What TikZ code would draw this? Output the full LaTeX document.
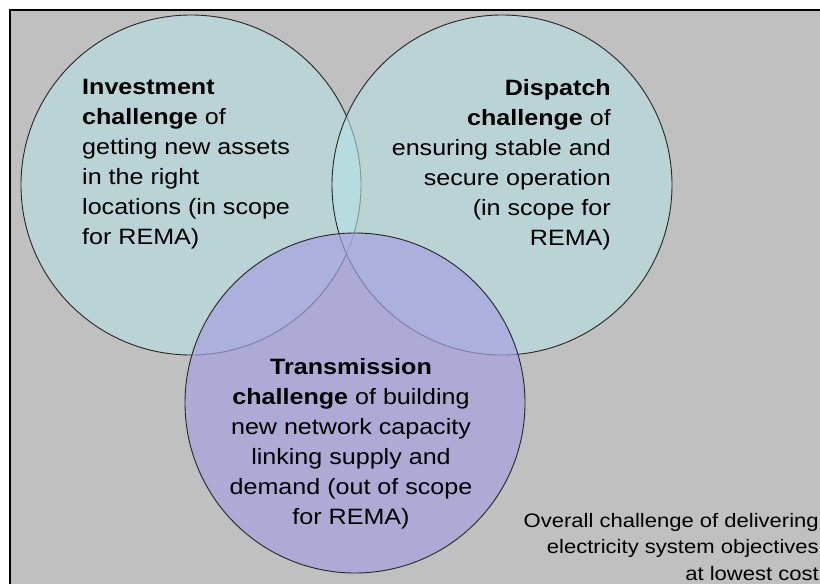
\documentclass[tikz,border=0pt]{standalone}
\usepackage{fontspec}
\setmainfont[FakeStretch=1.13]{Liberation Sans}
\definecolor{bggrey}{RGB}{192,192,192}
\definecolor{tealfill}{RGB}{182,226,230}
\definecolor{purplefill}{RGB}{166,161,223}
\begin{document}
\begin{tikzpicture}[x=1pt,y=-1pt,
  venn/.style={circle, draw=black!85, line width=0.9pt, minimum size=340pt, inner sep=0pt},
  tealc/.style={venn, fill=tealfill, fill opacity=0.6},
  purplec/.style={venn, fill=purplefill, fill opacity=0.7},
  lbl/.style={inner sep=0pt, font=\fontsize{22.2}{30}\selectfont, text=black},
  note/.style={inner sep=0pt, font=\fontsize{19.5}{26.5}\selectfont, text=black}]
\useasboundingbox (0,0) rectangle (820,584);
\fill[white] (0,0) rectangle (820,584);
\begin{scope}
\clip (0,0) rectangle (820,584);
\draw[fill=bggrey, line width=1.4pt] (10,10) rectangle (840,600);
\end{scope}
\node[tealc] (inv) at (191,185) {};
\node[tealc] (disp) at (502,185) {};
\node[purplec] (trans) at (355,403) {};
\node[lbl, anchor=north west, align=left] (invtxt) at (82,79)
  {\textbf{Investment}\\\textbf{challenge} of\\getting new assets\\in the right\\locations (in scope\\for REMA)};
\node[lbl, anchor=north east, align=right] (disptxt) at (611,79)
  {\textbf{Dispatch}\\\textbf{challenge} of\\ensuring stable and\\secure operation\\(in scope for\\REMA)};
\node[lbl, anchor=north, align=center] (transtxt) at (351,358)
  {\textbf{Transmission}\\\textbf{challenge} of building\\new network capacity\\linking supply and\\demand (out of scope\\for REMA)};
\node[note, anchor=north east, align=right] (overall) at (819,513)
  {Overall challenge of delivering\\electricity system objectives\\at lowest cost};
\end{tikzpicture}
\end{document}
